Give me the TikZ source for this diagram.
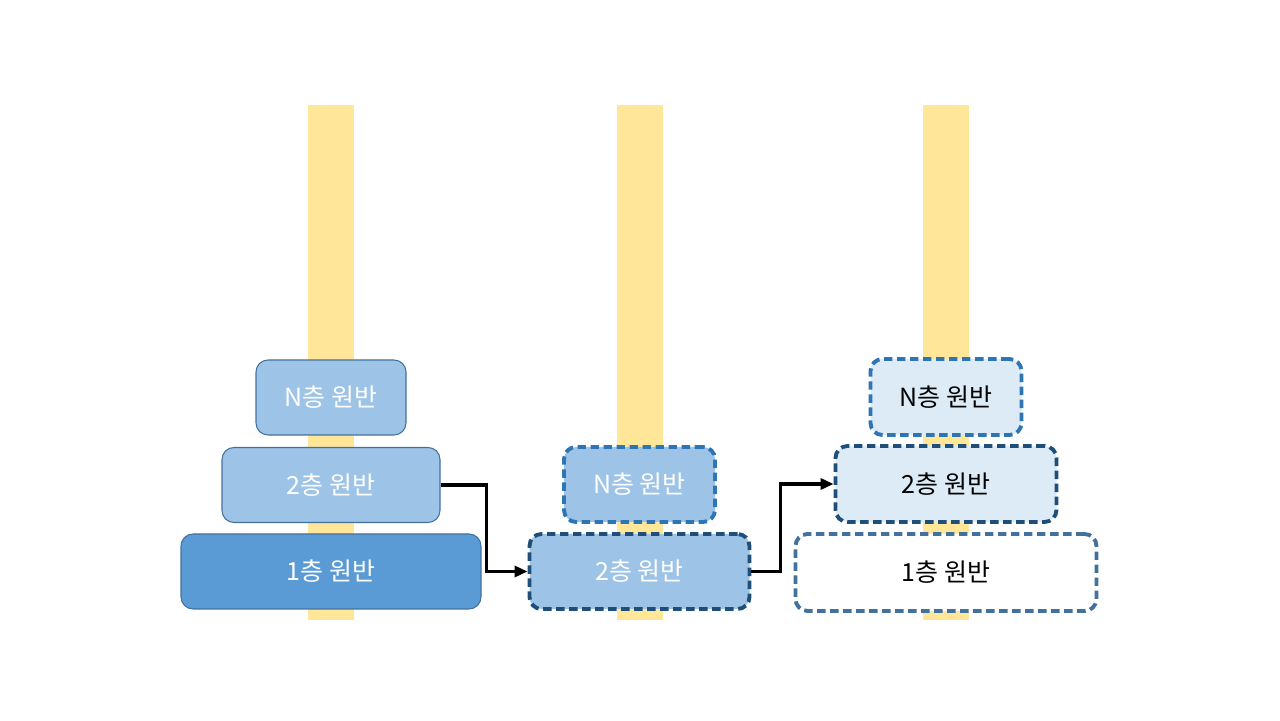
\documentclass[tikz,border=0pt]{standalone}
\usepackage{fontspec}
\setmainfont{Noto Sans CJK KR}
\usetikzlibrary{shapes,arrows,arrows.meta,positioning,calc}
\definecolor{pegcolor}{RGB}{255, 230, 153}
\definecolor{diskdark}{RGB}{91, 155, 213}
\definecolor{disklight}{RGB}{157, 195, 230}
\definecolor{diskpale}{RGB}{221, 235, 247}
\definecolor{edgethin}{RGB}{65, 113, 156}
\definecolor{edgeblue}{RGB}{46, 117, 182}
\definecolor{edgenavy}{RGB}{31, 78, 121}

\begin{document}
\begin{tikzpicture}[
        disk/.style={rectangle, rounded corners=0.24cm, minimum height=1.5cm, inner sep=0pt, font=\fontsize{14.2pt}{17pt}\selectfont},
        solid disk/.style={disk, draw=edgethin, line width=0.6pt, text=white},
        moved disk/.style={disk, line width=2.2pt, dash pattern=on 4.8pt off 2.6pt},
        peg/.style={fill=pegcolor, draw=none},
        arrow/.style={-{Triangle[length=0.26cm, width=0.22cm]}, line width=1.8pt}
    ]
        \useasboundingbox (0,0) rectangle (25.6,14.4);

        % Pegs
        \foreach \x in {6.62,12.79,18.92} {
            \fill[peg] (\x-0.46,2.0) rectangle (\x+0.46,12.3);
        }

        % Source peg
        \node[solid disk, fill=disklight, minimum width=3.0cm] (sN) at (6.62,6.45) {N층 원반};
        \node[solid disk, fill=disklight, minimum width=4.36cm] (s2) at (6.62,4.70) {2층 원반};
        \node[solid disk, fill=diskdark, minimum width=6.0cm] (s1) at (6.62,2.97) {1층 원반};

        % Middle peg
        \node[moved disk, draw=edgeblue, fill=disklight, text=white, minimum width=3.02cm] (mN) at (12.79,4.71) {N층 원반};
        \node[moved disk, draw=edgenavy, fill=disklight, text=white, minimum width=4.4cm] (m2) at (12.79,2.97) {2층 원반};

        % Target peg
        \node[moved disk, draw=edgeblue, fill=diskpale, minimum width=3.02cm, minimum height=1.52cm] (tN) at (18.92,6.46) {N층 원반};
        \node[moved disk, draw=edgenavy, fill=diskpale, minimum width=4.42cm, minimum height=1.52cm] (t2) at (18.92,4.72) {2층 원반};
        \node[moved disk, draw=edgethin, fill=white, minimum width=6.02cm, minimum height=1.54cm] (t1) at (18.92,2.95) {1층 원반};

        % Moves
        \draw[arrow] (s2.east) -- ++(0.92,0) |- (m2.west);
        \draw[arrow] (m2.east) -- ++(0.58,0) |- (t2.west);

    \end{tikzpicture}
\end{document}
